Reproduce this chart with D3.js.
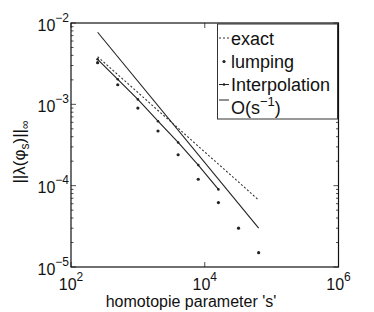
<!DOCTYPE html>
<html>
<head>
<meta charset="utf-8">
<script src="https://cdn.jsdelivr.net/npm/d3@7"></script>
<style>
  body { margin: 0; background: #fff; }
  text { font-family: "Liberation Sans", Arial, sans-serif; fill: #111; }
</style>
</head>
<body>
<svg id="chart" width="374" height="312"></svg>
<script>
// homotopy parameter values
const sValues = [250, 500, 1000, 2000, 4000, 8000, 16000, 32000, 64000];
const exactVals = [3.85e-3, 2.32e-3, 1.40e-3, 8.4e-4, 5.1e-4, 3.05e-4, 1.84e-4, 1.11e-4, 6.65e-5];
const lumpingVals = [3.25e-3, 1.74e-3, 9.0e-4, 4.7e-4, 2.4e-4, 1.2e-4, 6.2e-5, 3.0e-5, 1.5e-5];
const interpS = [250, 500, 1000, 2000, 4000, 8000, 16000];
const interpVals = [3.58e-3, 2.03e-3, 1.15e-3, 6.2e-4, 3.4e-4, 1.79e-4, 9.0e-5];
const orderS = [250, 64000];
const orderVals = [7.7e-3, 3.0e-5];
const xTicks = [1e2, 1e4, 1e6];
const xTickExp = ['2', '4', '6'];
const yTicks = [1e-5, 1e-4, 1e-3, 1e-2];
const yTickExp = ['\u22125', '\u22124', '\u22123', '\u22122'];

const svg = d3.select('#chart');
const margin = {left: 71, right: 35.5, top: 23, bottom: 45};
const width = 374, height = 312;
const x0 = margin.left, x1 = width - margin.right;
const y0 = margin.top, y1 = height - margin.bottom;

const x = d3.scaleLog().domain([1e2, 1e6]).range([x0, x1]);
const y = d3.scaleLog().domain([1e-5, 1e-2]).range([y1, y0]);

const ink = '#222';

// y ticks (major + minor), both sides, inward
const yMinor = [];
[1e-5, 1e-4, 1e-3].forEach(d => { for (let k = 2; k <= 9; k++) yMinor.push(d * k); });
const ticks = svg.append('g').attr('stroke', ink).attr('stroke-width', 0.8);
yTicks.forEach(t => {
  ticks.append('line').attr('x1', x0).attr('x2', x0 + 5).attr('y1', y(t)).attr('y2', y(t));
  ticks.append('line').attr('x1', x1).attr('x2', x1 - 5).attr('y1', y(t)).attr('y2', y(t));
});
yMinor.forEach(t => {
  ticks.append('line').attr('x1', x0).attr('x2', x0 + 2.5).attr('y1', y(t)).attr('y2', y(t));
  ticks.append('line').attr('x1', x1).attr('x2', x1 - 2.5).attr('y1', y(t)).attr('y2', y(t));
});
xTicks.forEach(t => {
  ticks.append('line').attr('x1', x(t)).attr('x2', x(t)).attr('y1', y1).attr('y2', y1 - 5);
  ticks.append('line').attr('x1', x(t)).attr('x2', x(t)).attr('y1', y0).attr('y2', y0 + 5);
});

// data
const line = d3.line().x(d => x(d[0])).y(d => y(d[1]));
const plot = svg.append('g');

plot.append('path')
  .datum(d3.zip(sValues, exactVals))
  .attr('d', line).attr('fill', 'none')
  .attr('stroke', '#333').attr('stroke-width', 1.1).attr('stroke-dasharray', '2,2');

plot.append('path')
  .datum(d3.zip(interpS, interpVals))
  .attr('d', line).attr('fill', 'none')
  .attr('stroke', ink).attr('stroke-width', 1.1);
plot.selectAll('.ip').data(d3.zip(interpS, interpVals)).join('circle')
  .attr('class', 'ip').attr('cx', d => x(d[0])).attr('cy', d => y(d[1]))
  .attr('r', 1.3).attr('fill', ink);

plot.append('path')
  .datum(d3.zip(orderS, orderVals))
  .attr('d', line).attr('fill', 'none')
  .attr('stroke', ink).attr('stroke-width', 1.1);

plot.selectAll('.lp').data(d3.zip(sValues, lumpingVals)).join('circle')
  .attr('class', 'lp').attr('cx', d => x(d[0])).attr('cy', d => y(d[1]))
  .attr('r', 1.6).attr('fill', ink);

// box
svg.append('rect')
  .attr('x', x0).attr('y', y0).attr('width', x1 - x0).attr('height', y1 - y0)
  .attr('fill', 'none').attr('stroke', '#111').attr('stroke-width', 1.2);

// tick labels
yTicks.forEach((t, i) => {
  const tx = svg.append('text').attr('x', 69).attr('y', y(t) + 7.5)
    .attr('text-anchor', 'end').attr('font-size', 16).text('10');
  tx.append('tspan').attr('dy', -9).attr('font-size', 12).text(yTickExp[i]);
});
xTicks.forEach((t, i) => {
  const tx = svg.append('text').attr('x', x(t)).attr('y', 290)
    .attr('text-anchor', 'middle').attr('font-size', 16).text('10');
  tx.append('tspan').attr('dy', -9).attr('font-size', 12).text(xTickExp[i]);
});

// axis labels
svg.append('text').attr('x', 191).attr('y', 307)
  .attr('text-anchor', 'middle').attr('font-size', 16)
  .text("homotopie parameter 's'");

const yl = svg.append('text')
  .attr('transform', 'translate(25,152) rotate(-90)')
  .attr('text-anchor', 'middle').attr('font-size', 17);
yl.append('tspan').text('||\u03bb(\u03c6');
yl.append('tspan').attr('dy', 4).attr('font-size', 12).text('s');
yl.append('tspan').attr('dy', -4).text(')||');
yl.append('tspan').attr('dy', 4).attr('font-size', 12).text('\u221e');

// legend
const lg = svg.append('g');
lg.append('rect').attr('x', 217.5).attr('y', 24).attr('width', 120).attr('height', 95)
  .attr('fill', '#fff').attr('stroke', '#333').attr('stroke-width', 1);
const legendRows = [
  {label: 'exact', y: 38},
  {label: 'lumping', y: 61.5},
  {label: 'Interpolation', y: 84.5},
  {label: 'O(s', y: 107}
];
legendRows.forEach((r, i) => {
  const t = lg.append('text').attr('x', 231).attr('y', r.y + 6.5).attr('font-size', 18).text(r.label);
  if (i === 3) {
    t.append('tspan').attr('dy', -8).attr('font-size', 13).text('\u22121');
    t.append('tspan').attr('dy', 8).text(')');
  }
});
lg.append('line').attr('x1', 219).attr('x2', 229).attr('y1', 38).attr('y2', 38)
  .attr('stroke', '#333').attr('stroke-dasharray', '2,2');
lg.append('circle').attr('cx', 224).attr('cy', 61.5).attr('r', 1.6).attr('fill', ink);
lg.append('line').attr('x1', 219).attr('x2', 229).attr('y1', 84.5).attr('y2', 84.5).attr('stroke', ink);
lg.append('circle').attr('cx', 224).attr('cy', 84.5).attr('r', 1.3).attr('fill', ink);
lg.append('line').attr('x1', 219).attr('x2', 229).attr('y1', 100).attr('y2', 100).attr('stroke', ink);
</script>
</body>
</html>
